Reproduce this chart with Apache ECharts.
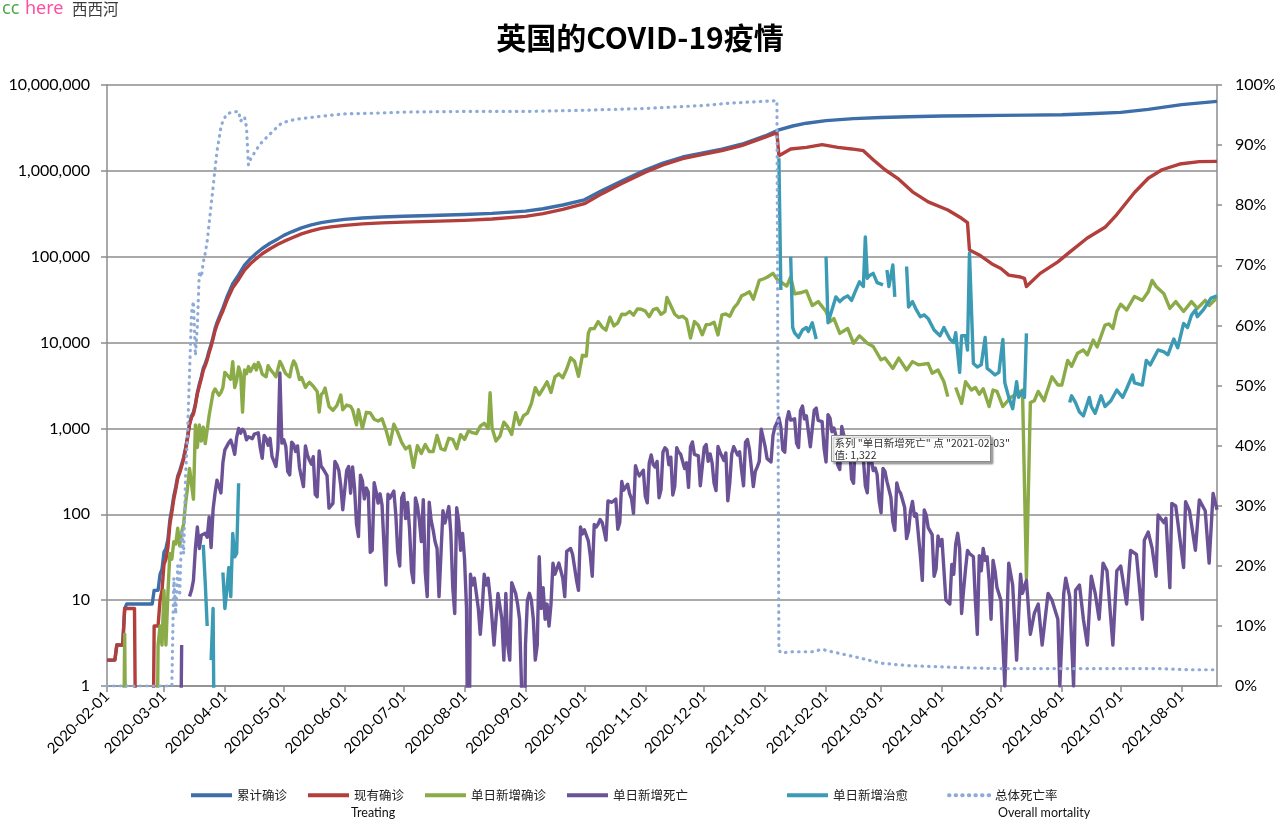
<!DOCTYPE html>
<html><head><meta charset="utf-8">
<script src="https://cdn.jsdelivr.net/npm/echarts@6.0.0/dist/echarts.min.js"></script>
<style>html,body{margin:0;padding:0;background:#fff}#c{width:1280px;height:826px}</style>
</head><body><div id="c"></div>
<script>
const TITLE = '英国的COVID-19疫情';
const MONTH_TICKS = ['2020-02-01','2020-03-01','2020-04-01','2020-05-01','2020-06-01','2020-07-01','2020-08-01','2020-09-01','2020-10-01','2020-11-01','2020-12-01','2021-01-01','2021-02-01','2021-03-01','2021-04-01','2021-05-01','2021-06-01','2021-07-01','2021-08-01'];
const X_MIN = '2020-02-01', X_MAX = '2021-08-19';
const NAMES = ['累计确诊','现有确诊','单日新增确诊','单日新增死亡','单日新增治愈','总体死亡率'];
const COLORS = ['#3d6ea9','#b23f3c','#8aab47','#6b5296','#3b9ab4','#8eaad8'];

const cumConfirmed = [['2020-02-01',2],['2020-02-05',2],['2020-02-06',3],['2020-02-09',3],['2020-02-10',8],['2020-02-11',9],['2020-02-24',9],['2020-02-25',13],['2020-02-27',13],['2020-02-28',20],['2020-02-29',23],['2020-03-01',36],['2020-03-02',40],['2020-03-03',51],['2020-03-04',86],['2020-03-05',116],['2020-03-06',164],['2020-03-07',209],['2020-03-08',278],['2020-03-09',321],['2020-03-10',383],['2020-03-11',460],['2020-03-12',594],['2020-03-13',798],['2020-03-14',1140],['2020-03-15',1391],['2020-03-16',1543],['2020-03-17',1950],['2020-03-18',2626],['2020-03-19',3269],['2020-03-20',3983],['2020-03-21',5018],['2020-03-22',5683],['2020-03-23',6650],['2020-03-24',8077],['2020-03-25',9529],['2020-03-26',11658],['2020-03-27',14543],['2020-03-28',17089],['2020-03-29',19522],['2020-03-30',22141],['2020-03-31',25150],['2020-04-02',33718],['2020-04-05',48436],['2020-04-08',61474],['2020-04-11',79874],['2020-04-14',94845],['2020-04-17',109769],['2020-04-20',124743],['2020-04-24',143464],['2020-04-28',161145],['2020-05-01',177454],['2020-05-05',194990],['2020-05-10',216525],['2020-05-15',234440],['2020-05-20',249619],['2020-05-25',259559],['2020-06-01',272000],['2020-06-10',282000],['2020-06-20',290000],['2020-07-01',296000],['2020-07-15',302000],['2020-08-01',310000],['2020-08-15',320000],['2020-09-01',340000],['2020-09-10',362000],['2020-09-20',400000],['2020-10-01',460000],['2020-10-10',590000],['2020-10-20',760000],['2020-11-01',1020000],['2020-11-10',1230000],['2020-11-20',1450000],['2020-12-01',1630000],['2020-12-10',1790000],['2020-12-20',2040000],['2021-01-01',2550000],['2021-01-08',3000000],['2021-01-15',3330000],['2021-01-22',3590000],['2021-02-01',3850000],['2021-02-15',4060000],['2021-03-01',4190000],['2021-03-15',4270000],['2021-04-01',4360000],['2021-04-15',4390000],['2021-05-01',4430000],['2021-05-15',4460000],['2021-06-01',4500000],['2021-06-15',4620000],['2021-07-01',4800000],['2021-07-15',5200000],['2021-08-01',5900000],['2021-08-19',6450000]];

const activeCases = [['2020-02-01',2],['2020-02-05',2],['2020-02-06',3],['2020-02-09',3],['2020-02-10',8],['2020-02-15',8],['2020-02-16',0],['2020-02-24',0],['2020-02-25',5],['2020-02-27',5],['2020-02-28',10],['2020-02-29',13],['2020-03-01',26],['2020-03-02',30],['2020-03-03',41],['2020-03-04',76],['2020-03-05',105],['2020-03-06',150],['2020-03-07',195],['2020-03-08',262],['2020-03-09',303],['2020-03-10',362],['2020-03-11',437],['2020-03-12',570],['2020-03-13',770],['2020-03-14',1100],['2020-03-15',1340],['2020-03-16',1470],['2020-03-17',1870],['2020-03-18',2530],['2020-03-19',3110],['2020-03-20',3780],['2020-03-21',4760],['2020-03-22',5380],['2020-03-23',6290],['2020-03-24',7630],['2020-03-25',9040],['2020-03-26',11050],['2020-03-27',13760],['2020-03-28',16050],['2020-03-29',18270],['2020-03-30',20710],['2020-03-31',23330],['2020-04-02',30770],['2020-04-05',43470],['2020-04-08',54340],['2020-04-11',69960],['2020-04-14',82720],['2020-04-17',95170],['2020-04-20',108210],['2020-04-24',123940],['2020-04-28',139450],['2020-05-01',150700],['2020-05-05',165000],['2020-05-10',184700],['2020-05-15',200500],['2020-05-20',214000],['2020-05-25',222600],['2020-06-01',232000],['2020-06-10',241000],['2020-06-20',248000],['2020-07-01',253000],['2020-07-15',258000],['2020-08-01',265000],['2020-08-15',275000],['2020-09-01',295000],['2020-09-10',318000],['2020-09-20',356000],['2020-10-01',415000],['2020-10-10',543000],['2020-10-20',712000],['2020-11-01',967000],['2020-11-10',1170000],['2020-11-20',1385000],['2020-12-01',1570000],['2020-12-10',1725000],['2020-12-20',1970000],['2021-01-01',2475000],['2021-01-07',2780000],['2021-01-08',1500000],['2021-01-14',1800000],['2021-01-22',1880000],['2021-01-30',2020000],['2021-02-07',1880000],['2021-02-14',1800000],['2021-02-20',1720000],['2021-02-25',1350000],['2021-03-03',1030000],['2021-03-10',800000],['2021-03-17',570000],['2021-03-25',435000],['2021-04-04',350000],['2021-04-11',280000],['2021-04-14',250000],['2021-04-15',120000],['2021-04-20',105000],['2021-04-27',81000],['2021-05-01',73000],['2021-05-05',61000],['2021-05-11',58000],['2021-05-13',56000],['2021-05-14',45000],['2021-05-21',64000],['2021-05-30',87000],['2021-06-05',113000],['2021-06-14',165000],['2021-06-23',220000],['2021-06-29',310000],['2021-07-08',560000],['2021-07-15',820000],['2021-07-22',1030000],['2021-07-31',1200000],['2021-08-10',1280000],['2021-08-19',1290000]];

const newConfirmed = [['2020-02-09',0],['2020-02-10',4],['2020-02-11',0],['2020-02-12',null],['2020-02-26',0],['2020-02-27',3],['2020-02-28',5],['2020-02-29',3],['2020-03-01',13],['2020-03-02',3],['2020-03-03',12],['2020-03-04',35],['2020-03-05',30],['2020-03-06',48],['2020-03-07',45],['2020-03-08',69],['2020-03-09',43],['2020-03-10',62],['2020-03-11',77],['2020-03-12',134],['2020-03-13',204],['2020-03-14',342],['2020-03-15',330],['2020-03-16',150],['2020-03-17',1100],['2020-03-18',600],['2020-03-19',1100],['2020-03-20',714],['2020-03-21',1035],['2020-03-22',665],['2020-03-23',967],['2020-03-24',1427],['2020-03-25',1452],['2020-03-26',2600],['2020-03-27',2885],['2020-03-28',3000],['2020-03-29',2433],['2020-03-30',2619],['2020-03-31',3009],['2020-04-01',4500],['2020-04-02',4244],['2020-04-03',4450],['2020-04-04',3735],['2020-04-05',6000],['2020-04-06',3000],['2020-04-07',3634],['2020-04-08',5200],['2020-04-09',4344],['2020-04-10',1550],['2020-04-11',4800],['2020-04-12',4342],['2020-04-13',5252],['2020-04-14',4603],['2020-04-15',4617],['2020-04-16',5599],['2020-04-17',4800],['2020-04-18',5850],['2020-04-19',5200],['2020-04-20',4301],['2020-04-21',4451],['2020-04-22',4000],['2020-04-23',5386],['2020-04-24',4913],['2020-04-25',4800],['2020-04-26',4309],['2020-04-27',3996],['2020-04-28',3800],['2020-04-29',6032],['2020-04-30',5500],['2020-05-01',4806],['2020-05-02',4339],['2020-05-03',4406],['2020-05-04',3985],['2020-05-05',5200],['2020-05-06',6111],['2020-05-07',5614],['2020-05-08',4649],['2020-05-09',3700],['2020-05-10',3923],['2020-05-11',3877],['2020-05-12',3000],['2020-05-13',3242],['2020-05-14',3446],['2020-05-15',3560],['2020-05-16',3100],['2020-05-17',3142],['2020-05-18',2684],['2020-05-19',1550],['2020-05-20',2472],['2020-05-21',2615],['2020-05-22',2950],['2020-05-23',2959],['2020-05-24',1800],['2020-05-26',1625],['2020-05-28',1850],['2020-05-30',2445],['2020-05-31',1650],['2020-06-02',1871],['2020-06-04',1805],['2020-06-05',1650],['2020-06-07',1100],['2020-06-08',1650],['2020-06-10',1003],['2020-06-12',1541],['2020-06-14',1514],['2020-06-16',1279],['2020-06-18',1218],['2020-06-20',1295],['2020-06-22',958],['2020-06-24',653],['2020-06-26',1118],['2020-06-28',901],['2020-06-30',689],['2020-07-02',576],['2020-07-04',624],['2020-07-06',352],['2020-07-08',630],['2020-07-10',512],['2020-07-12',650],['2020-07-14',538],['2020-07-16',538],['2020-07-18',827],['2020-07-20',580],['2020-07-22',560],['2020-07-24',767],['2020-07-26',747],['2020-07-28',581],['2020-07-30',846],['2020-08-01',743],['2020-08-03',938],['2020-08-05',892],['2020-08-07',871],['2020-08-09',1062],['2020-08-11',1148],['2020-08-13',1002],['2020-08-14',2600],['2020-08-15',1012],['2020-08-17',713],['2020-08-19',812],['2020-08-21',1182],['2020-08-23',1041],['2020-08-25',853],['2020-08-27',1522],['2020-08-29',1108],['2020-08-31',1406],['2020-09-02',1508],['2020-09-04',1940],['2020-09-06',2988],['2020-09-08',2460],['2020-09-10',2919],['2020-09-12',3497],['2020-09-14',2621],['2020-09-16',3991],['2020-09-18',4322],['2020-09-20',3899],['2020-09-22',4926],['2020-09-24',6634],['2020-09-26',6042],['2020-09-28',4044],['2020-09-30',7108],['2020-10-02',6968],['2020-10-03',12872],['2020-10-04',14500],['2020-10-06',14542],['2020-10-08',17540],['2020-10-10',15166],['2020-10-12',13972],['2020-10-14',19724],['2020-10-16',15650],['2020-10-18',16982],['2020-10-20',21331],['2020-10-22',21242],['2020-10-24',23012],['2020-10-26',20890],['2020-10-28',24701],['2020-10-30',24405],['2020-11-01',23254],['2020-11-03',20018],['2020-11-05',24141],['2020-11-07',24957],['2020-11-09',21350],['2020-11-11',22950],['2020-11-12',33470],['2020-11-14',26860],['2020-11-16',21363],['2020-11-18',19609],['2020-11-20',20252],['2020-11-22',18662],['2020-11-24',11299],['2020-11-26',17555],['2020-11-28',15871],['2020-11-30',12330],['2020-12-02',16170],['2020-12-04',16298],['2020-12-06',17272],['2020-12-08',12282],['2020-12-10',20964],['2020-12-12',21502],['2020-12-14',20263],['2020-12-16',25161],['2020-12-18',28507],['2020-12-20',35000],['2020-12-22',36804],['2020-12-24',39000],['2020-12-26',32000],['2020-12-29',53000],['2020-12-31',55000],['2021-01-02',57700],['2021-01-05',64000],['2021-01-07',55000],['2021-01-10',49000],['2021-01-12',45500],['2021-01-14',58000],['2021-01-16',37000],['2021-01-19',38000],['2021-01-22',40000],['2021-01-25',27000],['2021-01-28',30000],['2021-02-01',23000],['2021-02-03',17500],['2021-02-05',19000],['2021-02-08',12800],['2021-02-12',14600],['2021-02-15',9800],['2021-02-18',12000],['2021-02-22',9800],['2021-02-25',9000],['2021-03-01',6300],['2021-03-03',6600],['2021-03-07',5000],['2021-03-10',6600],['2021-03-14',4800],['2021-03-17',6000],['2021-03-20',5500],['2021-03-25',5700],['2021-03-27',4400],['2021-03-30',4800],['2021-04-02',3500],['2021-04-04',2350],['2021-04-05',null],['2021-04-08',3000],['2021-04-11',1950],['2021-04-13',3500],['2021-04-16',2800],['2021-04-18',3000],['2021-04-20',2500],['2021-04-22',2900],['2021-04-25',1800],['2021-04-27',2800],['2021-04-29',2700],['2021-05-02',1800],['2021-05-06',2300],['2021-05-09',2500],['2021-05-12',2800],['2021-05-13',2800],['2021-05-14',18],['2021-05-16',2000],['2021-05-18',2100],['2021-05-20',2700],['2021-05-23',2100],['2021-05-24',2500],['2021-05-27',4000],['2021-05-30',3200],['2021-06-01',3200],['2021-06-04',6200],['2021-06-06',5300],['2021-06-09',7500],['2021-06-12',8200],['2021-06-14',7200],['2021-06-17',10700],['2021-06-19',8900],['2021-06-23',16000],['2021-06-25',16500],['2021-06-27',14600],['2021-06-29',23000],['2021-07-01',28000],['2021-07-04',24000],['2021-07-08',34500],['2021-07-12',31000],['2021-07-15',39000],['2021-07-17',53000],['2021-07-19',45000],['2021-07-20',47000],['2021-07-23',37000],['2021-07-26',25000],['2021-07-29',30000],['2021-08-02',23000],['2021-08-06',30000],['2021-08-09',25000],['2021-08-13',31000],['2021-08-15',27000],['2021-08-17',30000],['2021-08-19',33000]];

const newDeaths = [['2020-03-09',0],['2020-03-10',3],['2020-03-11',null],['2020-03-14',11],['2020-03-15',13],['2020-03-16',17],['2020-03-17',40],['2020-03-18',71],['2020-03-19',40],['2020-03-20',57],['2020-03-21',56],['2020-03-22',60],['2020-03-23',54],['2020-03-24',93],['2020-03-25',41],['2020-03-26',114],['2020-03-27',177],['2020-03-28',250],['2020-03-29',210],['2020-03-30',177],['2020-03-31',400],['2020-04-01',563],['2020-04-02',569],['2020-04-03',684],['2020-04-04',730],['2020-04-05',621],['2020-04-06',500],['2020-04-07',786],['2020-04-08',1000],['2020-04-09',881],['2020-04-10',980],['2020-04-11',917],['2020-04-12',737],['2020-04-13',800],['2020-04-14',778],['2020-04-15',761],['2020-04-16',861],['2020-04-17',890],['2020-04-18',888],['2020-04-19',596],['2020-04-20',449],['2020-04-21',828],['2020-04-22',763],['2020-04-23',638],['2020-04-24',768],['2020-04-25',470],['2020-04-26',413],['2020-04-27',360],['2020-04-28',586],['2020-04-29',4419],['2020-04-30',674],['2020-05-01',739],['2020-05-02',621],['2020-05-03',315],['2020-05-04',288],['2020-05-05',693],['2020-05-06',649],['2020-05-07',539],['2020-05-08',626],['2020-05-09',346],['2020-05-10',268],['2020-05-11',210],['2020-05-12',627],['2020-05-13',494],['2020-05-14',428],['2020-05-15',384],['2020-05-16',468],['2020-05-17',170],['2020-05-18',160],['2020-05-19',545],['2020-05-20',363],['2020-05-21',338],['2020-05-22',351],['2020-05-23',282],['2020-05-24',118],['2020-05-25',121],['2020-05-26',134],['2020-05-27',412],['2020-05-28',377],['2020-05-29',324],['2020-05-30',215],['2020-05-31',113],['2020-06-01',111],['2020-06-02',324],['2020-06-03',359],['2020-06-04',176],['2020-06-05',357],['2020-06-06',204],['2020-06-07',77],['2020-06-08',55],['2020-06-09',286],['2020-06-10',245],['2020-06-11',151],['2020-06-12',202],['2020-06-13',181],['2020-06-14',36],['2020-06-15',38],['2020-06-16',233],['2020-06-17',184],['2020-06-18',135],['2020-06-19',173],['2020-06-20',128],['2020-06-21',43],['2020-06-22',15],['2020-06-23',171],['2020-06-24',154],['2020-06-25',149],['2020-06-26',186],['2020-06-27',100],['2020-06-28',36],['2020-06-29',25],['2020-06-30',155],['2020-07-01',176],['2020-07-02',89],['2020-07-03',137],['2020-07-04',67],['2020-07-05',22],['2020-07-06',16],['2020-07-07',155],['2020-07-08',126],['2020-07-09',85],['2020-07-10',48],['2020-07-11',148],['2020-07-12',21],['2020-07-13',11],['2020-07-14',138],['2020-07-15',85],['2020-07-16',66],['2020-07-17',48],['2020-07-18',40],['2020-07-19',11],['2020-07-20',11],['2020-07-21',110],['2020-07-22',79],['2020-07-23',79],['2020-07-24',123],['2020-07-25',61],['2020-07-26',14],['2020-07-27',7],['2020-07-28',119],['2020-07-29',83],['2020-07-30',38],['2020-07-31',60],['2020-08-01',30],['2020-08-02',8],['2020-08-03',0],['2020-08-04',20],['2020-08-05',15],['2020-08-06',18],['2020-08-07',12],['2020-08-08',8],['2020-08-09',4],['2020-08-10',8],['2020-08-11',20],['2020-08-12',15],['2020-08-13',18],['2020-08-14',11],['2020-08-15',6],['2020-08-16',3],['2020-08-17',3],['2020-08-18',12],['2020-08-19',12],['2020-08-20',6],['2020-08-21',2],['2020-08-22',12],['2020-08-23',3],['2020-08-24',2],['2020-08-25',16],['2020-08-26',16],['2020-08-27',12],['2020-08-28',9],['2020-08-29',6],['2020-08-30',1],['2020-08-31',0],['2020-09-01',3],['2020-09-02',10],['2020-09-03',12],['2020-09-04',10],['2020-09-05',6],['2020-09-06',2],['2020-09-07',3],['2020-09-08',32],['2020-09-09',8],['2020-09-10',14],['2020-09-11',6],['2020-09-12',9],['2020-09-13',5],['2020-09-14',9],['2020-09-15',27],['2020-09-16',20],['2020-09-17',21],['2020-09-18',27],['2020-09-19',27],['2020-09-20',18],['2020-09-21',11],['2020-09-22',37],['2020-09-23',37],['2020-09-24',40],['2020-09-25',34],['2020-09-26',34],['2020-09-27',17],['2020-09-28',13],['2020-09-29',71],['2020-09-30',59],['2020-10-01',66],['2020-10-02',67],['2020-10-03',49],['2020-10-04',33],['2020-10-05',19],['2020-10-06',76],['2020-10-07',71],['2020-10-08',77],['2020-10-09',87],['2020-10-10',81],['2020-10-11',65],['2020-10-12',50],['2020-10-13',143],['2020-10-14',137],['2020-10-15',138],['2020-10-16',136],['2020-10-17',150],['2020-10-18',67],['2020-10-19',80],['2020-10-20',241],['2020-10-21',191],['2020-10-22',189],['2020-10-23',224],['2020-10-24',174],['2020-10-25',151],['2020-10-26',102],['2020-10-27',367],['2020-10-28',310],['2020-10-29',280],['2020-10-30',274],['2020-10-31',326],['2020-11-01',162],['2020-11-02',136],['2020-11-03',397],['2020-11-04',492],['2020-11-05',378],['2020-11-06',355],['2020-11-07',413],['2020-11-08',156],['2020-11-09',194],['2020-11-10',532],['2020-11-11',595],['2020-11-12',563],['2020-11-13',376],['2020-11-14',462],['2020-11-15',168],['2020-11-16',213],['2020-11-17',598],['2020-11-18',529],['2020-11-19',501],['2020-11-20',511],['2020-11-21',341],['2020-11-22',398],['2020-11-23',206],['2020-11-24',608],['2020-11-25',696],['2020-11-26',498],['2020-11-27',521],['2020-11-28',479],['2020-11-29',215],['2020-11-30',205],['2020-12-01',603],['2020-12-02',648],['2020-12-03',414],['2020-12-04',504],['2020-12-05',397],['2020-12-06',231],['2020-12-07',189],['2020-12-08',616],['2020-12-09',533],['2020-12-10',516],['2020-12-11',424],['2020-12-12',519],['2020-12-13',144],['2020-12-14',232],['2020-12-15',506],['2020-12-16',612],['2020-12-17',613],['2020-12-18',489],['2020-12-19',534],['2020-12-20',326],['2020-12-21',215],['2020-12-22',691],['2020-12-23',744],['2020-12-24',570],['2020-12-25',570],['2020-12-26',210],['2020-12-27',316],['2020-12-28',357],['2020-12-29',414],['2020-12-30',981],['2020-12-31',964],['2021-01-01',613],['2021-01-02',445],['2021-01-03',454],['2021-01-04',407],['2021-01-05',830],['2021-01-06',1041],['2021-01-07',1162],['2021-01-08',1325],['2021-01-09',1035],['2021-01-10',563],['2021-01-11',529],['2021-01-12',1243],['2021-01-13',1564],['2021-01-14',1248],['2021-01-15',1280],['2021-01-16',1295],['2021-01-17',671],['2021-01-18',599],['2021-01-19',1610],['2021-01-20',1820],['2021-01-21',1290],['2021-01-22',1401],['2021-01-23',1348],['2021-01-24',610],['2021-01-25',592],['2021-01-26',1631],['2021-01-27',1725],['2021-01-28',1239],['2021-01-29',1245],['2021-01-30',1200],['2021-01-31',587],['2021-02-01',406],['2021-02-02',1449],['2021-02-03',1322],['2021-02-04',915],['2021-02-05',1014],['2021-02-06',828],['2021-02-07',373],['2021-02-08',333],['2021-02-09',1052],['2021-02-10',1001],['2021-02-11',678],['2021-02-12',758],['2021-02-13',621],['2021-02-14',258],['2021-02-15',230],['2021-02-16',799],['2021-02-17',738],['2021-02-18',454],['2021-02-19',533],['2021-02-20',445],['2021-02-21',215],['2021-02-22',178],['2021-02-23',548],['2021-02-24',442],['2021-02-25',323],['2021-02-26',345],['2021-02-27',290],['2021-02-28',144],['2021-03-01',104],['2021-03-02',343],['2021-03-03',315],['2021-03-04',242],['2021-03-05',236],['2021-03-06',158],['2021-03-07',82],['2021-03-08',65],['2021-03-09',231],['2021-03-10',190],['2021-03-11',175],['2021-03-12',175],['2021-03-13',121],['2021-03-14',52],['2021-03-15',64],['2021-03-16',110],['2021-03-17',141],['2021-03-18',95],['2021-03-19',101],['2021-03-20',96],['2021-03-21',33],['2021-03-22',17],['2021-03-23',112],['2021-03-24',98],['2021-03-25',70],['2021-03-26',70],['2021-03-27',58],['2021-03-28',19],['2021-03-29',23],['2021-03-30',56],['2021-03-31',43],['2021-04-01',51],['2021-04-02',52],['2021-04-03',10],['2021-04-04',10],['2021-04-05',9],['2021-04-06',26],['2021-04-07',20],['2021-04-08',45],['2021-04-09',60],['2021-04-10',40],['2021-04-11',7],['2021-04-12',13],['2021-04-13',23],['2021-04-14',38],['2021-04-15',35],['2021-04-16',34],['2021-04-17',32],['2021-04-18',10],['2021-04-19',4],['2021-04-20',33],['2021-04-21',22],['2021-04-22',40],['2021-04-23',29],['2021-04-24',32],['2021-04-25',17],['2021-04-26',6],['2021-04-27',29],['2021-04-28',22],['2021-04-29',14],['2021-04-30',14],['2021-05-01',10],['2021-05-03',1],['2021-05-05',27],['2021-05-07',15],['2021-05-09',2],['2021-05-11',20],['2021-05-12',12],['2021-05-14',17],['2021-05-16',4],['2021-05-18',7],['2021-05-20',9],['2021-05-22',3],['2021-05-25',12],['2021-05-27',10],['2021-05-30',6],['2021-05-31',1],['2021-06-02',12],['2021-06-03',18],['2021-06-05',11],['2021-06-07',1],['2021-06-08',13],['2021-06-10',15],['2021-06-12',6],['2021-06-14',3],['2021-06-16',19],['2021-06-18',12],['2021-06-20',6],['2021-06-22',27],['2021-06-24',22],['2021-06-27',3],['2021-06-29',22],['2021-07-01',25],['2021-07-04',9],['2021-07-06',38],['2021-07-09',34],['2021-07-12',6],['2021-07-13',50],['2021-07-15',62],['2021-07-17',40],['2021-07-19',19],['2021-07-20',98],['2021-07-23',80],['2021-07-24',90],['2021-07-26',14],['2021-07-27',134],['2021-07-29',125],['2021-08-02',24],['2021-08-03',140],['2021-08-05',110],['2021-08-08',38],['2021-08-10',147],['2021-08-13',110],['2021-08-15',27],['2021-08-17',175],['2021-08-19',113]];

const newRecovered = [['2020-03-21',44],['2020-03-22',16],['2020-03-23',5],['2020-03-24',null],['2020-03-25',2],['2020-03-26',8],['2020-03-27',0],['2020-03-28',null],['2020-03-31',21],['2020-04-01',8],['2020-04-02',13],['2020-04-03',24],['2020-04-04',11],['2020-04-05',60],['2020-04-06',32],['2020-04-07',35],['2020-04-08',230],['2020-04-09',null],['2021-01-08',1400000],['2021-01-09',41000],['2021-01-10',null],['2021-01-14',100000],['2021-01-15',15000],['2021-01-16',13000],['2021-01-18',11500],['2021-01-20',14000],['2021-01-22',15000],['2021-01-23',13500],['2021-01-25',17000],['2021-01-27',11000],['2021-01-28',null],['2021-02-01',100000],['2021-02-02',17000],['2021-02-04',24000],['2021-02-06',34000],['2021-02-08',30000],['2021-02-10',33000],['2021-02-12',35000],['2021-02-14',31000],['2021-02-16',40000],['2021-02-18',51000],['2021-02-20',45000],['2021-02-21',170000],['2021-02-22',56000],['2021-02-23',60000],['2021-02-25',64000],['2021-02-27',50000],['2021-03-02',47000],['2021-03-03',null],['2021-03-04',70000],['2021-03-05',45000],['2021-03-06',45000],['2021-03-07',80000],['2021-03-08',34000],['2021-03-09',null],['2021-03-14',77000],['2021-03-15',26000],['2021-03-17',30000],['2021-03-19',24000],['2021-03-21',20000],['2021-03-23',21000],['2021-03-25',19000],['2021-03-28',14000],['2021-03-31',12000],['2021-04-02',15000],['2021-04-05',11000],['2021-04-07',10000],['2021-04-08',13000],['2021-04-10',4500],['2021-04-11',12000],['2021-04-13',12000],['2021-04-14',8200],['2021-04-15',110000],['2021-04-17',5700],['2021-04-19',5200],['2021-04-21',5500],['2021-04-23',11500],['2021-04-24',5000],['2021-04-26',4600],['2021-04-28',4200],['2021-04-30',4500],['2021-05-02',10900],['2021-05-03',3400],['2021-05-05',2300],['2021-05-07',1700],['2021-05-09',3500],['2021-05-10',2300],['2021-05-12',2700],['2021-05-13',2300],['2021-05-14',12800],['2021-05-15',null],['2021-06-05',2000],['2021-06-06',2400],['2021-06-08',2000],['2021-06-10',1550],['2021-06-12',1400],['2021-06-15',2300],['2021-06-16',1800],['2021-06-18',1500],['2021-06-21',2400],['2021-06-23',1800],['2021-06-26',2100],['2021-06-29',2800],['2021-07-02',2300],['2021-07-04',2900],['2021-07-07',4200],['2021-07-08',3400],['2021-07-12',3200],['2021-07-14',6200],['2021-07-16',5500],['2021-07-20',8200],['2021-07-23',7800],['2021-07-25',7200],['2021-07-28',11000],['2021-07-30',8700],['2021-08-02',16700],['2021-08-04',15000],['2021-08-06',20800],['2021-08-08',24000],['2021-08-09',20000],['2021-08-12',24000],['2021-08-16',33000],['2021-08-19',35000]];

const mortality = [['2020-02-01',0],['2020-03-05',0],['2020-03-06',0.18],['2020-03-07',0.12],['2020-03-08',0.2],['2020-03-09',0.15],['2020-03-10',0.26],['2020-03-11',0.22],['2020-03-12',0.35],['2020-03-13',0.42],['2020-03-14',0.52],['2020-03-15',0.62],['2020-03-16',0.64],['2020-03-17',0.55],['2020-03-18',0.6],['2020-03-19',0.69],['2020-03-20',0.68],['2020-03-21',0.705],['2020-03-22',0.72],['2020-03-23',0.74],['2020-03-24',0.77],['2020-03-25',0.8],['2020-03-26',0.83],['2020-03-27',0.86],['2020-03-28',0.89],['2020-03-29',0.91],['2020-03-30',0.93],['2020-03-31',0.94],['2020-04-02',0.952],['2020-04-05',0.955],['2020-04-08',0.956],['2020-04-09',0.94],['2020-04-11',0.947],['2020-04-12',0.93],['2020-04-13',0.867],['2020-04-14',0.876],['2020-04-16',0.887],['2020-04-19',0.902],['2020-04-22',0.912],['2020-04-26',0.925],['2020-04-30',0.937],['2020-05-07',0.943],['2020-05-20',0.948],['2020-06-01',0.952],['2020-06-15',0.953],['2020-07-01',0.955],['2020-08-01',0.956],['2020-09-01',0.956],['2020-10-01',0.958],['2020-11-01',0.961],['2020-12-01',0.966],['2020-12-15',0.970],['2021-01-01',0.973],['2021-01-07',0.974],['2021-01-08',0.06],['2021-01-09',0.055],['2021-01-15',0.057],['2021-01-25',0.057],['2021-01-30',0.061],['2021-02-04',0.057],['2021-02-11',0.052],['2021-02-19',0.046],['2021-03-01',0.038],['2021-03-14',0.034],['2021-03-31',0.032],['2021-04-17',0.030],['2021-05-01',0.029],['2021-07-20',0.029],['2021-08-05',0.027],['2021-08-19',0.027]];

function ts(s){const p=s.split('-').map(Number);return Date.UTC(p[0],p[1]-1,p[2]);}
function fmtDate(v){const d=new Date(v);const m=d.getUTCMonth()+1,dd=d.getUTCDate();return d.getUTCFullYear()+'-'+(m<10?'0':'')+m+'-'+(dd<10?'0':'')+dd;}
function pts(arr,isLog){return arr.map(function(r){var v=r[1];if(v==null)return [ts(r[0]),null];if(isLog&&v<=0)v=0.01;return [ts(r[0]),v];});}

const SERIES_DATA = [cumConfirmed, activeCases, newConfirmed, newDeaths, newRecovered];
const LEGEND_LEFT = [189, 306, 423, 565, 785, 947];
const GRID_COLOR = '#8c8c8c';
const LATIN = 'Lato, "Liberation Sans", sans-serif';
const CJK = '"Noto Sans CJK SC", sans-serif';
const LINE_W = 3.4;

const chart = echarts.init(document.getElementById('c'), null, {renderer:'canvas'});
const series = SERIES_DATA.map(function(d,i){return {
  name:NAMES[i], type:'line', yAxisIndex:0, data:pts(d,true), symbol:'none', showSymbol:false,
  lineStyle:{width:LINE_W,color:COLORS[i],join:'round'}, itemStyle:{color:COLORS[i]}, clip:true,
  emphasis:{disabled:true}, animation:false, connectNulls:false
};});
series.push({name:NAMES[5], type:'line', yAxisIndex:1, data:pts(mortality,false), symbol:'none', showSymbol:false,
  lineStyle:{width:3.2,color:COLORS[5],type:[0.5,6.1],cap:'round'}, itemStyle:{color:COLORS[5]}, clip:true,
  emphasis:{disabled:true}, animation:false});

const tickTs = MONTH_TICKS.map(ts);
const option = {
  animation:false,
  backgroundColor:'#ffffff',
  title:{text:TITLE,left:'center',top:18,textStyle:{fontSize:30,fontWeight:'bold',color:'#000',fontFamily:CJK}},
  legend: NAMES.map(function(n,i){return {data:[n],left:LEGEND_LEFT[i],top:789,padding:0,itemWidth:41,itemHeight:14,itemGap:0,selectedMode:false,
    itemStyle:{opacity:0},lineStyle:{width:4},
    textStyle:{fontSize:12.5,color:'#222',fontFamily:CJK}};}),
  grid:{left:107,right:63,top:85,bottom:140,containLabel:false},
  xAxis:{type:'value',min:ts(X_MIN),max:ts(X_MAX),scale:true,
    axisLine:{show:true,lineStyle:{color:GRID_COLOR,width:1.5}},
    axisTick:{show:true,length:6,lineStyle:{color:GRID_COLOR,width:1.5},customValues:tickTs},
    axisLabel:{show:true,rotate:45,margin:8,fontSize:15,color:'#000',fontFamily:LATIN,customValues:tickTs,formatter:function(v){return fmtDate(v);},hideOverlap:false},
    splitLine:{show:false}},
  yAxis:[
    {type:'log',logBase:10,min:1,max:10000000,position:'left',
     axisLine:{show:true,lineStyle:{color:GRID_COLOR,width:1.5}},
     axisTick:{show:true,length:6,lineStyle:{color:GRID_COLOR,width:1.5}},
     axisLabel:{fontSize:16,color:'#000',fontFamily:LATIN,margin:17,formatter:function(v){return Math.round(v).toLocaleString('en-US');}},
     splitLine:{show:true,lineStyle:{color:GRID_COLOR,width:1.5}}},
    {type:'value',min:0,max:1,interval:0.1,position:'right',
     axisLine:{show:true,lineStyle:{color:GRID_COLOR,width:1.5}},
     axisTick:{show:true,length:5,lineStyle:{color:GRID_COLOR,width:1.5}},
     axisLabel:{fontSize:16,color:'#000',fontFamily:LATIN,margin:18,formatter:function(v){return Math.round(v*100)+'%';}},
     splitLine:{show:false}}
  ],
  series:series,
  graphic:[
    {type:'text',left:2,top:0,z:100,style:{text:'cc',fontSize:18,fontFamily:'"Noto Sans", sans-serif',fill:'#4ea84a'}},
    {type:'text',left:25,top:0,z:100,style:{text:'here',fontSize:18,fontFamily:'"Noto Sans", sans-serif',fill:'#ff4fa0'}},
    {type:'text',left:72,top:1,z:100,style:{text:'西西河',fontSize:15.5,fontFamily:CJK,fill:'#3a3a3a'}},
    {type:'text',left:351,top:806,z:100,style:{text:'Treating',fontSize:12.5,fontFamily:LATIN,fill:'#111'}},
    {type:'text',left:998,top:806,z:100,style:{text:'Overall mortality',fontSize:12.5,fontFamily:LATIN,fill:'#111'}},
    {type:'group',left:831,top:435,z:100,children:[
      {type:'rect',z:100,shape:{x:0,y:0,width:159,height:26},style:{fill:'#fff',stroke:'#8a8a8a',lineWidth:1,shadowBlur:2,shadowOffsetX:2,shadowOffsetY:2,shadowColor:'rgba(0,0,0,0.35)'}},
      {type:'text',z:101,x:3,y:2,style:{text:'系列 "单日新增死亡" 点 "2021-02-03"',fontSize:10.5,fontFamily:CJK,fill:'#333'}},
      {type:'text',z:101,x:3,y:14,style:{text:'值: 1,322',fontSize:10.5,fontFamily:CJK,fill:'#333'}}
    ]}
  ]
};
chart.setOption(option);
</script></body></html>
